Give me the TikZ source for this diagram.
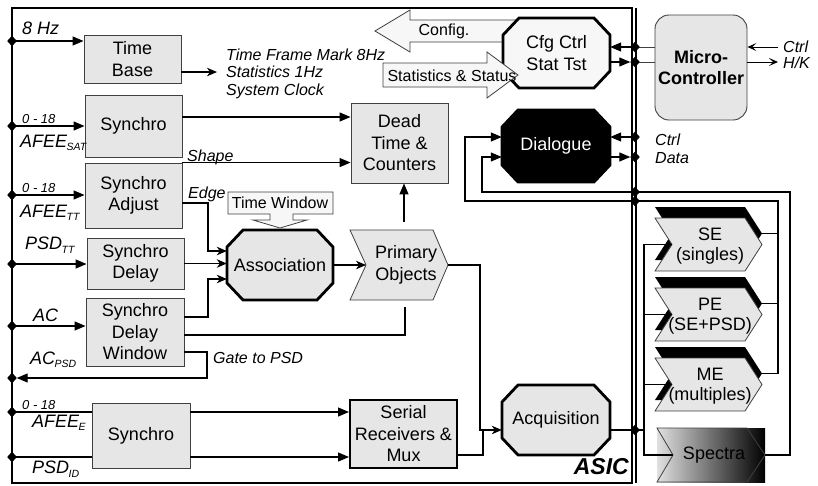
\documentclass[tikz,border=0pt]{standalone}
\usepackage{fontspec}
\setmainfont{Liberation Sans}
\usetikzlibrary{arrows.meta,shapes.geometric}
\definecolor{boxgray}{HTML}{E6E6E6}
\definecolor{lightfill}{HTML}{F7F7F7}
\definecolor{edgegray}{HTML}{404040}
\newcommand\mainf{\fontsize{18}{21.5}\selectfont}
\newcommand\midf{\fontsize{16}{18}\selectfont}
\newcommand\labf{\fontsize{16}{17.5}\selectfont\itshape}
\newcommand\bigf{\fontsize{18}{20}\selectfont\itshape}
\newcommand\smallf{\fontsize{13}{14}\selectfont\itshape}
\newcommand\lsub[1]{\kern-0.5pt\raisebox{-3.5pt}{\fontsize{10.5}{11}\selectfont\itshape #1}}
\tikzset{
  box/.style={draw=edgegray, fill=boxgray, line width=0.9pt, align=center, font=\mainf, inner sep=0pt},
  txt/.style={align=center, font=\mainf, inner sep=0pt},
  octline/.style={draw=black, line width=2.8pt, line join=miter},
  lab/.style={font=\labf, inner sep=0pt, anchor=west, align=left},
  labbig/.style={font=\bigf, inner sep=0pt, anchor=west},
  labsm/.style={font=\smallf, inner sep=0pt, anchor=west},
  conn/.style={line width=1.2pt, draw=black},
  arr/.style={conn, -{Triangle[length=11pt,width=9pt]}},
  sarr/.style={conn, -{Stealth[length=10pt,width=8.5pt,inset=3pt]}},
  carr/.style={line width=1pt, -{Stealth[length=9pt,width=8pt,inset=4pt]}},
  jn/.style={diamond, fill=black, inner sep=0pt, minimum width=9pt, minimum height=10pt},
  gline/.style={draw=edgegray, line width=0.8pt},
}
\begin{document}
\begin{tikzpicture}[x=1pt,y=-1pt]
\useasboundingbox (0,0) rectangle (818,485);
\fill[white] (0,0) rectangle (818,485);

% ---------------- ASIC frame ----------------
\draw[line width=2.4pt] (12,8) rectangle (632,483);
\draw[line width=1.2pt] (636,8) -- (636,483);
\node[anchor=east, inner sep=0pt, font=\fontsize{23}{23}\selectfont\bfseries\itshape] (asic) at (629,467) {ASIC};

% ---------------- junctions ----------------
\node[jn] (j1) at (12,41) {};
\node[jn] (j2) at (12,126) {};
\node[jn] (j3) at (12,195) {};
\node[jn] (j4) at (12,264) {};
\node[jn] (j5) at (12,326) {};
\node[jn] (j6) at (12,378) {};
\node[jn] (j7) at (12,412) {};
\node[jn] (j8) at (12,457) {};
\node[jn] (jc1) at (635,47) {};
\node[jn] (jc2) at (635,62) {};
\node[jn] (jd1) at (635,137) {};
\node[jn] (jd2) at (635,157) {};
\node[jn] (jb1) at (635,192) {};
\node[jn] (jb2) at (635,201) {};
\node[jn] (ja) at (635,430) {};

% ---------------- rectangular boxes ----------------
\node[box, minimum width=97pt, minimum height=48pt] (tb) at (132.5,59) {Time\\Base};
\node[box, minimum width=97pt, minimum height=62pt] (syn1) at (133.5,126) {Synchro};
\node[box, minimum width=97pt, minimum height=65pt] (sadj) at (133.5,195.5) {Synchro\\Adjust};
\node[box, minimum width=97pt, minimum height=51pt] (sdel) at (135.5,263.5) {Synchro\\Delay};
\node[box, minimum width=98pt, minimum height=68pt] (sdw) at (135,332) {Synchro\\Delay\\Window};
\node[box, minimum width=98pt, minimum height=65pt] (syn2) at (141,435.5) {Synchro};
\node[box, minimum width=97pt, minimum height=80pt] (dt) at (399.5,143) {Dead\\Time \&\\Counters};
\node[box, draw=black, line width=2pt, minimum width=107pt, minimum height=68pt] (sr) at (403.5,434) {Serial\\Receivers \&\\Mux};
\node[box, rounded corners=14pt, minimum width=92pt, minimum height=105pt, font=\mainf\bfseries] (mc) at (701,67.5) {Micro-\\Controller};

% ---------------- Config arrow (behind Cfg) ----------------
\draw[gline, fill=lightfill] (375,31) -- (410,10) -- (410,20) -- (525,20) -- (525,42) -- (410,42) -- (410,52) -- cycle;
\node[txt, font=\midf] (cfgtxt) at (444,31) {Config.};

% ---------------- octagons ----------------
\draw[octline, fill=lightfill] (519,18) -- (594,18) -- (610,35) -- (610,71) -- (594,88) -- (519,88) -- (503,71) -- (503,35) -- cycle;
\node[txt, minimum width=107pt, minimum height=70pt] (cfg) at (556.5,53) {Cfg Ctrl\\Stat Tst};

\draw[octline, fill=black] (518,110) -- (594,110) -- (610,127) -- (610,165) -- (594,182) -- (518,182) -- (502,165) -- (502,127) -- cycle;
\node[txt, text=white, minimum width=108pt, minimum height=72pt] (dlg) at (556,146) {Dialogue};

\draw[octline, fill=boxgray] (243,230) -- (317,230) -- (333,247) -- (333,283) -- (317,300) -- (243,300) -- (227,283) -- (227,247) -- cycle;
\node[txt, minimum width=106pt, minimum height=70pt] (assoc) at (280,265) {Association};

\draw[octline, fill=boxgray] (518,385) -- (594,385) -- (610,402) -- (610,438) -- (594,455) -- (518,455) -- (502,438) -- (502,402) -- cycle;
\node[txt, minimum width=108pt, minimum height=70pt] (acq) at (556,420) {Acquisition};

% ---------------- Statistics arrow (over Cfg) ----------------
\draw[gline, fill=lightfill] (383,63) -- (487,63) -- (487,52) -- (518,75) -- (487,98) -- (487,87) -- (383,87) -- cycle;
\node[txt, font=\midf] (stattxt) at (452,76) {Statistics \& Status};

% ---------------- Time Window callout ----------------
\draw[gline, fill=lightfill] (228,192) -- (333,192) -- (333,214) -- (293,214) -- (293,220) -- (307,220) -- (280,228) -- (253,220) -- (270,220) -- (270,214) -- (228,214) -- cycle;
\node[txt, font=\midf] (tw) at (280,203) {Time Window};

% ---------------- Primary Objects chevron ----------------
\draw[gline, fill=boxgray] (350,230) -- (433,230) -- (448,265) -- (433,300) -- (350,300) -- (366,265) -- cycle;
\node[txt] (po) at (406,265) {Primary\\Objects};
\coordinate (poin) at (366,265);
\coordinate (poout) at (448,265);
\coordinate (pot) at (404,222);

% ---------------- SE / PE / ME ----------------
\fill[black] (655,207) -- (745,207) -- (762,233.5) -- (745,260) -- (655,260) -- (672,233.5) -- cycle;
\draw[gline, fill=boxgray] (655,218) -- (745,218) -- (762,244.5) -- (745,271) -- (655,271) -- (672,244.5) -- cycle;
\node[txt, font=\fontsize{18}{20}\selectfont] (se) at (710,246) {SE\\(singles)};
\fill[black] (655,277) -- (745,277) -- (762,303.5) -- (745,330) -- (655,330) -- (672,303.5) -- cycle;
\draw[gline, fill=boxgray] (655,288) -- (745,288) -- (762,314.5) -- (745,341) -- (655,341) -- (672,314.5) -- cycle;
\node[txt, font=\fontsize{18}{20}\selectfont] (pe) at (710,316) {PE\\(SE+PSD)};
\fill[black] (655,347) -- (745,347) -- (762,373.5) -- (745,400) -- (655,400) -- (672,373.5) -- cycle;
\draw[gline, fill=boxgray] (655,358) -- (745,358) -- (762,384.5) -- (745,411) -- (655,411) -- (672,384.5) -- cycle;
\node[txt, font=\fontsize{18}{20}\selectfont] (me) at (710,386) {ME\\(multiples)};
\coordinate (seIn) at (672,244.5);
\coordinate (peIn) at (672,314.5);
\coordinate (meIn) at (672,384.5);
\coordinate (seOut) at (762,233.5);
\coordinate (peOut) at (762,303.5);
\coordinate (meOut) at (762,373.5);

% ---------------- Spectra ----------------
\shade[left color=black!12, middle color=black!45, right color=black] (657,428) rectangle (765,482);
\draw[draw=black!75, line width=0.8pt] (657,428) -- (747,428) -- (765,455) -- (747,482) -- (657,482) -- (673,455) -- cycle;
\node[txt] (spec) at (714,455) {Spectra};
\coordinate (spIn) at (673,455);
\coordinate (spOut) at (765,455);

% ---------------- left inputs ----------------
\draw[arr] (j1.center) -- (j1 -| tb.west);
\draw[arr] (j2.center) -- (j2 -| syn1.west);
\draw[arr] (j3.center) -- (j3 -| sadj.west);
\draw[arr] (j4.center) -- (j4 -| sdel.west);
\draw[arr] (j5.center) -- (j5 -| sdw.west);
\draw[arr] (sdw.east |- 0,352) -- (207,352) -- (207,378) -- (j6.east);
\draw[conn] (j7.center) -- (j7 -| syn2.west);
\draw[arr] (syn2.east |- j7) -- (j7 -| sr.west);
\draw[conn] (j8.center) -- (j8 -| syn2.west);
\draw[arr] (syn2.east |- j8) -- (j8 -| sr.west);

% ---------------- internal connectors ----------------
\node[lab] (tbtxt) at (226,73.5) {Time Frame Mark 8Hz\\Statistics 1Hz\\System Clock};
\coordinate (tbo) at (217,72);
\draw[sarr] (tb.east |- tbo) -- (tbo);
\draw[arr] (syn1.east |- 0,117) -- (dt.west |- 0,117);
\draw[arr] (sadj.north east) -- (sadj.north east -| dt.west);
\draw[sarr] (sadj.east |- 0,203) -- (208,203) -- (208,251) -- (assoc.west |- 0,251);
\draw[sarr] (sdel.east) -- (assoc.west |- sdel.east);
\draw[sarr] (sdw.east |- 0,317) -- (208,317) -- (208,279) -- (assoc.west |- 0,279);
\draw[conn] (sdw.east |- 0,335) -- (405,335) -- (405,307);
\draw[sarr] (assoc.east) -- (poin);
\draw[arr] (pot) -- (pot |- dt.south);
\draw[sarr] (poout) -- (480,265) -- (480,430) -- (acq.west |- 0,430);
\draw[conn] (sr.east |- 0,455) -- (483,455) -- (483,430);

% ---------------- right side ----------------
\draw[conn] (acq.east |- ja) -- (644,430);
\draw[conn] (seIn) -- (644,244.5) -- (644,455) -- (spIn);
\draw[conn] (644,314.5) -- (peIn);
\draw[conn] (644,384.5) -- (meIn);
\draw[conn] (seOut) -- (778,233.5);
\draw[conn] (peOut) -- (778,303.5);
\draw[arr] (meOut) -- (778,373.5) -- (778,201) -- (465,201) -- (465,137) -- (dlg.west |- 0,137);
\draw[arr] (spOut) -- (790,455) -- (790,192) -- (482,192) -- (482,157) -- (dlg.west |- 0,157);

\draw[arr] (jd1.center) -- (dlg.east |- jd1);
\draw[arr] (dlg.east |- jd2) -- (jd2.west);
\draw[arr] (jc1.center) -- (cfg.east |- jc1);
\draw[arr] (cfg.east |- jc2) -- (jc2.west);
\draw[gline] (jc1.center) -- (jc1 -| mc.west);
\draw[gline] (jc2.center) -- (jc2 -| mc.west);
\coordinate (ctrlin) at (778,47);
\coordinate (hkout) at (778,62);
\draw[carr] (ctrlin) -- (ctrlin -| mc.east);
\draw[carr] (hkout -| mc.east) -- (hkout);

% ---------------- labels ----------------
\node[labbig] (l8hz) at (22,28) {8 Hz};
\node[labsm] (l018a) at (22,119) {0 - 18};
\node[labbig] (lsat) at (20,143) {AFEE\lsub{SAT}};
\node[labsm] (l018b) at (22,188) {0 - 18};
\node[labbig] (ltt) at (20,213) {AFEE\lsub{TT}};
\node[labbig] (lpsdtt) at (25,245) {PSD\lsub{TT}};
\node[labbig] (lac) at (33,315) {AC};
\node[labbig] (lacpsd) at (30,360) {AC\lsub{PSD}};
\node[labsm] (l018c) at (22,405) {0 - 18};
\node[labbig] (le) at (32,423) {AFEE\lsub{E}};
\node[labbig] (lid) at (32,469) {PSD\lsub{ID}};

\node[lab] (lshape) at (187,157) {Shape};
\node[lab] (ledge) at (188,194) {Edge};
\node[lab] (lgate) at (213,358) {Gate to PSD};
\node[lab] (lctrl) at (655,140) {Ctrl};
\node[lab] (ldata) at (655,158) {Data};
\node[lab] (lctrl2) at (783,47) {Ctrl};
\node[lab] (lhk) at (783,63) {H/K};

% junction diamonds on top
\foreach \j in {j1,j2,j3,j4,j5,j6,j7,j8,jc1,jc2,jd1,jd2,jb1,jb2,ja}
  \fill[black] (\j.north) -- (\j.east) -- (\j.south) -- (\j.west) -- cycle;
\end{tikzpicture}
\end{document}
